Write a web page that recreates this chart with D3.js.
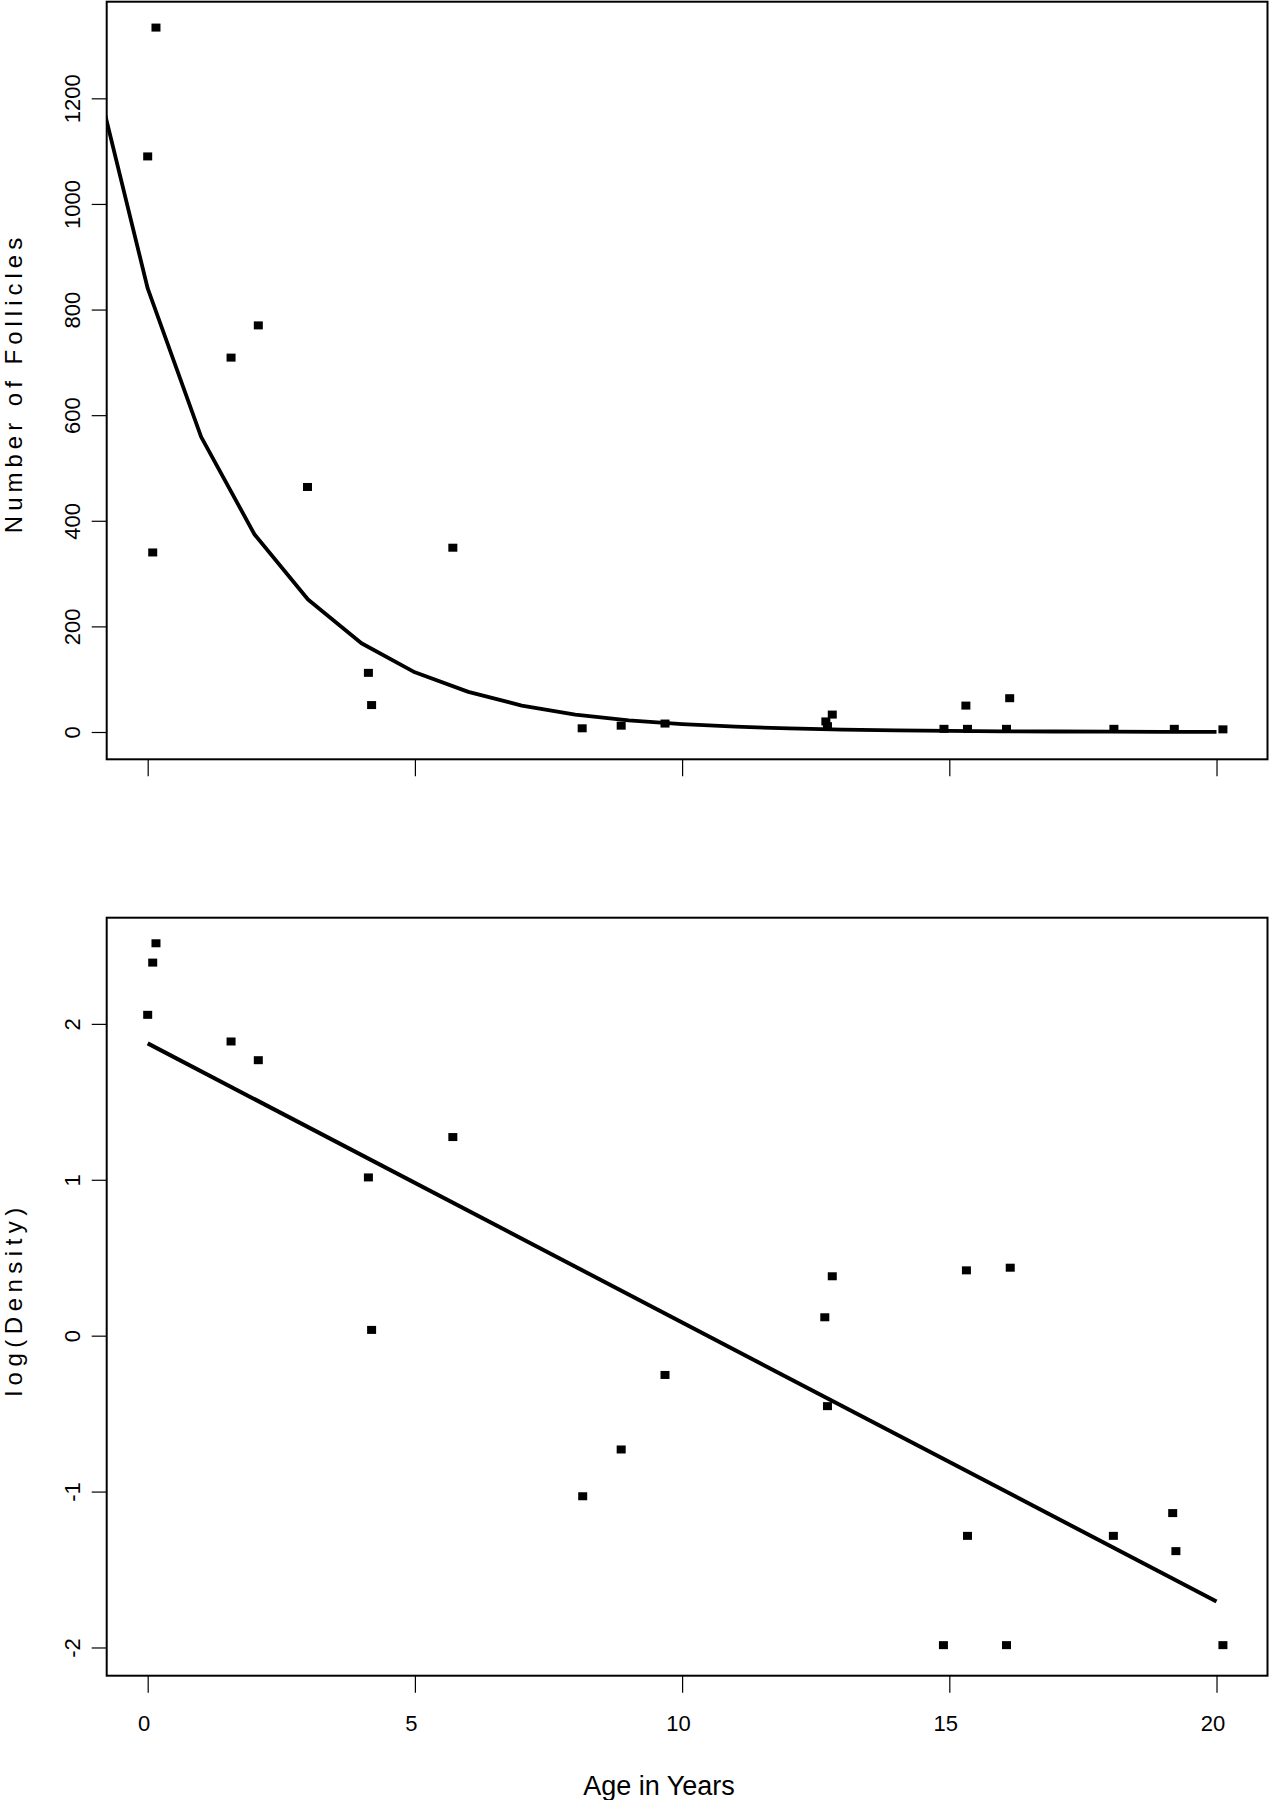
<!DOCTYPE html>
<html>
<head>
<meta charset="utf-8">
<script src="https://cdn.jsdelivr.net/npm/d3@7"></script>
<style>
  html, body { margin: 0; padding: 0; background: #fff; }
  svg { display: block; }
  text { font-family: "Liberation Sans", Arial, sans-serif; fill: #000; }
</style>
</head>
<body>
<svg id="chart" width="1269" height="1800"></svg>
<script>
// ---------- DATA ----------
// Top panel: age (years) vs number of follicles
const countAges   = [0.00, 0.094, 0.155, 1.56, 2.07, 2.99, 4.13, 4.19, 5.71, 8.13, 8.86, 9.68, 12.69, 12.72, 12.81, 14.90, 15.31, 15.34, 16.07, 16.13, 18.08, 19.21, 20.12];
const countValues = [1090, 340, 1334, 709, 770, 464, 112, 51, 349, 7, 12, 16, 20, 11, 33, 6, 50, 6, 6, 64, 6, 6, 5];

// Fitted exponential decay curve (read at whole years)
const fitAges   = [-1, 0, 1, 2, 3, 4, 5, 6, 7, 8, 9, 10, 11, 12, 13, 14, 15, 16, 17, 18, 19, 20];
const fitCounts = [1253, 840, 559, 374, 251, 168, 113, 76, 50, 33, 22, 15, 10, 6.7, 4.5, 3, 2, 1.3, 0.9, 0.6, 0.4, 0.27];

// Bottom panel: age vs log(Density)
const densAges   = [0.00, 0.094, 0.155, 1.56, 2.07, 4.13, 4.19, 5.71, 8.14, 8.86, 9.68, 12.67, 12.72, 12.81, 14.89, 15.32, 15.34, 16.07, 16.14, 18.07, 19.18, 19.24, 20.12];
const densValues = [2.058, 2.393, 2.517, 1.887, 1.767, 1.015, 0.037, 1.274, -1.03, -0.73, -0.252, 0.118, -0.452, 0.381, -1.985, 0.419, -1.284, -1.985, 0.436, -1.284, -1.138, -1.382, -1.985];

// Regression line endpoints
const regAges   = [0, 20];
const regValues = [1.875, -1.705];

// Ticks
const xTicks      = [0, 5, 10, 15, 20];
const countTicks  = [0, 200, 400, 600, 800, 1000, 1200];
const densTicks   = [-2, -1, 0, 1, 2];

// ---------- LAYOUT ----------
const svg = d3.select("#chart");
const L = 106.7, R = 1267.5;
const top1 = 1.7, bot1 = 759.3;
const top2 = 917.7, bot2 = 1675.7;

const x = d3.scaleLinear().domain([-0.767, 20.954]).range([L, R]);
const y1 = d3.scaleLinear().domain([-51.7, 1383]).range([bot1, top1]);
const y2 = d3.scaleLinear().domain([-2.181, 2.681]).range([bot2, top2]);

const fmt = d => String(d);  // plain hyphen-minus, as in the original

function panel(yScale, yTicks, topY, botY, showXLabels, id) {
  const g = svg.append("g");

  svg.append("clipPath").attr("id", id)
    .append("rect").attr("x", L).attr("y", topY).attr("width", R - L).attr("height", botY - topY);

  // y axis
  const ya = g.append("g").attr("transform", `translate(${L},0)`)
    .call(d3.axisLeft(yScale).tickValues(yTicks).tickSize(15).tickSizeOuter(0).tickFormat(fmt));
  ya.select(".domain").remove();
  ya.selectAll(".tick line").attr("stroke", "#000").attr("stroke-width", 1.2);
  ya.selectAll(".tick text")
    .attr("x", null).attr("dy", null)
    .attr("transform", "translate(-26.7,0) rotate(-90)")
    .attr("text-anchor", "middle")
    .style("font-size", "22px")
    .style("font-family", "'Liberation Sans', Arial, sans-serif");

  // x axis
  const xa = g.append("g").attr("transform", `translate(0,${botY})`)
    .call(d3.axisBottom(x).tickValues(xTicks).tickSize(17).tickSizeOuter(0).tickFormat(fmt));
  xa.select(".domain").remove();
  xa.selectAll(".tick line").attr("stroke", "#000").attr("stroke-width", 1.2);
  if (showXLabels) {
    xa.selectAll(".tick text")
      .attr("y", 55.8).attr("dy", null).attr("dx", -4)
      .style("font-size", "22px")
      .style("font-family", "'Liberation Sans', Arial, sans-serif");
  } else {
    xa.selectAll(".tick text").remove();
  }

  // frame
  g.append("rect").attr("x", L).attr("y", topY).attr("width", R - L).attr("height", botY - topY)
    .attr("fill", "none").attr("stroke", "#000").attr("stroke-width", 2);

  return g;
}

// ---------- TOP PANEL ----------
const g1 = panel(y1, countTicks, top1, bot1, false, "clip1");
const fitData = fitAges.map((a, i) => [a, fitCounts[i]]);
g1.append("path")
  .datum(fitData)
  .attr("clip-path", "url(#clip1)")
  .attr("fill", "none").attr("stroke", "#000").attr("stroke-width", 3.8)
  .attr("stroke-linejoin", "round")
  .attr("d", d3.line().x(d => x(d[0])).y(d => y1(d[1])));

const pts1 = countAges.map((a, i) => [a, countValues[i]]);
g1.selectAll("rect.pt").data(pts1).enter().append("rect")
  .attr("class", "pt")
  .attr("x", d => x(d[0]) - 4.5).attr("y", d => y1(d[1]) - 4)
  .attr("width", 9).attr("height", 8).attr("fill", "#000");

// ---------- BOTTOM PANEL ----------
const g2 = panel(y2, densTicks, top2, bot2, true, "clip2");
const regData = regAges.map((a, i) => [a, regValues[i]]);
g2.append("path")
  .datum(regData)
  .attr("clip-path", "url(#clip2)")
  .attr("fill", "none").attr("stroke", "#000").attr("stroke-width", 4)
  .attr("d", d3.line().x(d => x(d[0])).y(d => y2(d[1])));

const pts2 = densAges.map((a, i) => [a, densValues[i]]);
g2.selectAll("rect.pt").data(pts2).enter().append("rect")
  .attr("class", "pt")
  .attr("x", d => x(d[0]) - 4.5).attr("y", d => y2(d[1]) - 4)
  .attr("width", 9).attr("height", 8).attr("fill", "#000");

// ---------- AXIS TITLES ----------
svg.append("text")
  .attr("transform", `translate(22,${(top1 + bot1) / 2 + 2.5}) rotate(-90)`)
  .attr("text-anchor", "middle")
  .style("font-size", "24px").style("letter-spacing", "5px")
  .text("Number of Follicles");

svg.append("text")
  .attr("transform", `translate(22,${(top2 + bot2) / 2 + 2.5}) rotate(-90)`)
  .attr("text-anchor", "middle")
  .style("font-size", "24px").style("letter-spacing", "5.5px")
  .text("log(Density)");

svg.append("text")
  .attr("x", 659).attr("y", 1795)
  .attr("text-anchor", "middle")
  .style("font-size", "27px")
  .text("Age in Years");
</script>
</body>
</html>
